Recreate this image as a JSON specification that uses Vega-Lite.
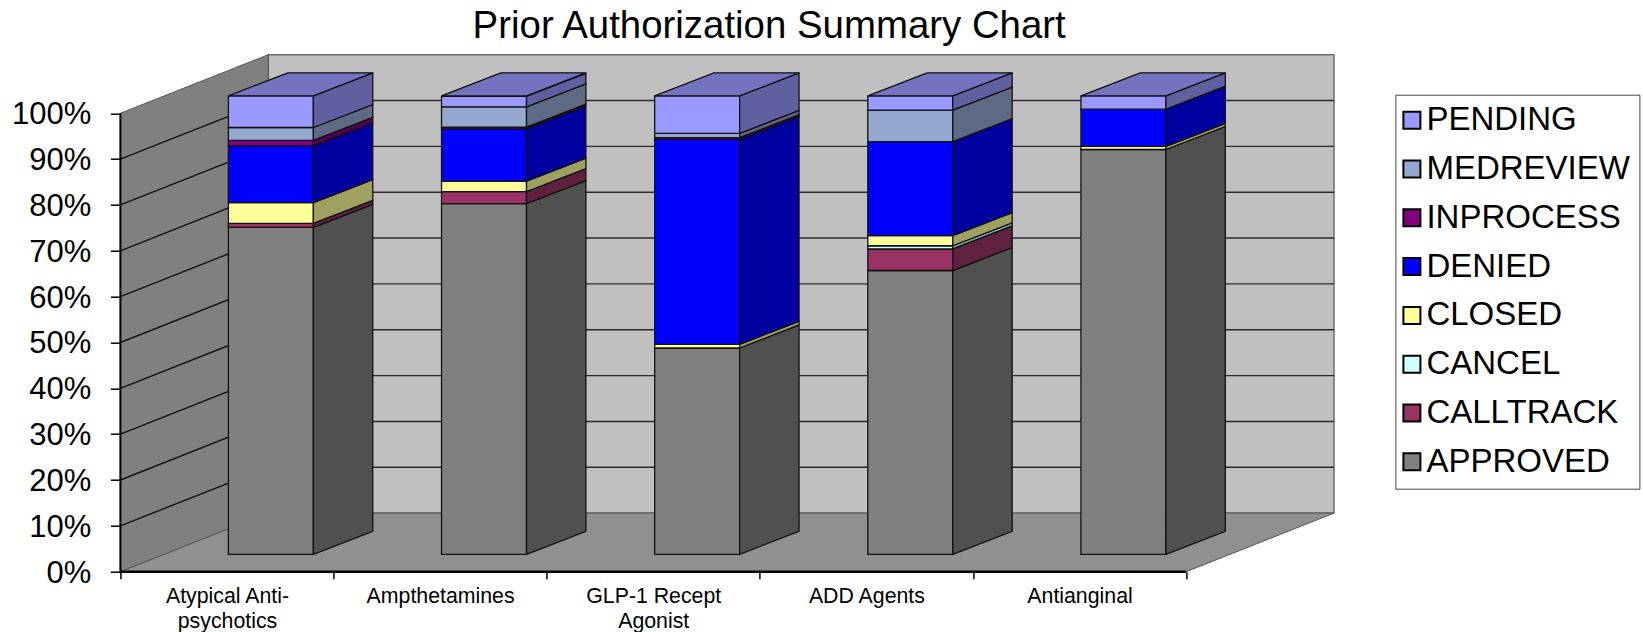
{"$schema":"https://vega.github.io/schema/vega-lite/v6.json","width":1213.6,"height":517,"autosize":"none","padding":{"left":120.4,"top":54.7,"right":309,"bottom":60.3},"background":"white","config":{"view":{"stroke":null}},
"title":{"text":"Prior Authorization Summary Chart","font":"Liberation Sans","fontSize":38.4,"fontWeight":"normal","anchor":"middle","dx":42,"offset":6,"color":"black"},
"datasets":{"rows":[
{"category":"Atypical Anti-psychotics","status":"APPROVED","value":71.3},{"category":"Atypical Anti-psychotics","status":"CALLTRACK","value":0.9},{"category":"Atypical Anti-psychotics","status":"CLOSED","value":4.5},{"category":"Atypical Anti-psychotics","status":"DENIED","value":12.4},{"category":"Atypical Anti-psychotics","status":"INPROCESS","value":1.2},{"category":"Atypical Anti-psychotics","status":"MEDREVIEW","value":2.8},{"category":"Atypical Anti-psychotics","status":"PENDING","value":6.9},
{"category":"Ampthetamines","status":"APPROVED","value":76.5},{"category":"Ampthetamines","status":"CALLTRACK","value":2.6},{"category":"Ampthetamines","status":"CLOSED","value":2.3},{"category":"Ampthetamines","status":"DENIED","value":11.4},{"category":"Ampthetamines","status":"INPROCESS","value":0.4},{"category":"Ampthetamines","status":"MEDREVIEW","value":4.4},{"category":"Ampthetamines","status":"PENDING","value":2.3},
{"category":"GLP-1 Recept Agonist","status":"APPROVED","value":45.0},{"category":"GLP-1 Recept Agonist","status":"CLOSED","value":0.8},{"category":"GLP-1 Recept Agonist","status":"DENIED","value":44.7},{"category":"GLP-1 Recept Agonist","status":"INPROCESS","value":0.4},{"category":"GLP-1 Recept Agonist","status":"MEDREVIEW","value":0.9},{"category":"GLP-1 Recept Agonist","status":"PENDING","value":8.2},
{"category":"ADD Agents","status":"APPROVED","value":61.9},{"category":"ADD Agents","status":"CALLTRACK","value":4.7},{"category":"ADD Agents","status":"CANCEL","value":0.7},{"category":"ADD Agents","status":"CLOSED","value":2.2},{"category":"ADD Agents","status":"DENIED","value":20.5},{"category":"ADD Agents","status":"MEDREVIEW","value":6.9},{"category":"ADD Agents","status":"PENDING","value":3.1},
{"category":"Antianginal","status":"APPROVED","value":88.3},{"category":"Antianginal","status":"CLOSED","value":0.7},{"category":"Antianginal","status":"DENIED","value":8.1},{"category":"Antianginal","status":"PENDING","value":2.9}
],"ticks":[{"tick":10},{"tick":20},{"tick":30},{"tick":40},{"tick":50},{"tick":60},{"tick":70},{"tick":80},{"tick":90}],"ends":[{"d":0},{"d":1}]},
"encoding":{
"x":{"field":"x","type":"quantitative","stack":null,"title":null,"scale":{"domain":[0,5.694],"nice":false,"zero":false},"axis":{"values":[0,0.5,1,1.5,2,2.5,3,3.5,4,4.5,5],"grid":false,"domain":false,"title":null,"tickColor":"black","tickWidth":1.5,"tickSize":7,"tickOpacity":{"condition":{"test":"datum.value%1==0","value":1},"value":0},"labelFont":"Liberation Sans","labelFontSize":21.3,"labelColor":"black","labelPadding":7,"labelLineHeight":25,"labelOverlap":false,"labelFlush":false,"labelBound":false,"labelAngle":0,"labelBaseline":"top","labelExpr":"datum.value==0.5?['Atypical Anti-','psychotics']:datum.value==1.5?'Ampthetamines':datum.value==2.5?['GLP-1 Recept','Agonist']:datum.value==3.5?'ADD Agents':datum.value==4.5?'Antianginal':''"}},
"y":{"field":"y","type":"quantitative","stack":null,"title":null,"scale":{"domain":[0,112.78],"nice":false,"zero":false},"axis":{"values":[0,10,20,30,40,50,60,70,80,90,100],"grid":false,"domain":false,"title":null,"tickColor":"black","tickWidth":1.5,"tickSize":10,"labelFont":"Liberation Sans","labelFontSize":31,"labelColor":"black","labelPadding":19.5,"labelOffset":1.5,"labelOverlap":false,"labelBound":false,"labelFlush":false,"labelExpr":"datum.value+'%'"}}
},
"layer":[
{"data":{"values":[{"d":1}]},"transform":[{"calculate":"0.694","as":"x"},{"calculate":"5.694","as":"x2"},{"calculate":"12.78","as":"y"},{"calculate":"112.78","as":"y2"}],"mark":{"type":"rect","fill":"#C0C0C0","stroke":"#6e6e6e","strokeWidth":1.5},"encoding":{"x2":{"field":"x2"},"y2":{"field":"y2"}}},
{"data":{"name":"ticks"},"transform":[{"calculate":"0.694","as":"x"},{"calculate":"5.694","as":"x2"},{"calculate":"datum.tick+12.78","as":"y"},{"calculate":"datum.y","as":"y2"}],"mark":{"type":"rule","color":"#2a2a2a","strokeWidth":1.4},"encoding":{"x2":{"field":"x2"},"y2":{"field":"y2"}}},
{"data":{"name":"ends"},"transform":[{"calculate":"0.694*datum.d","as":"x"},{"calculate":"12.78*datum.d","as":"y"},{"calculate":"100+12.78*datum.d","as":"y2"}],"mark":{"type":"area","fill":"#808080","stroke":"#555555","strokeWidth":1},"encoding":{"y2":{"field":"y2"}}},
{"data":{"name":"ends"},"transform":[{"calculate":"0.694*datum.d","as":"x"},{"calculate":"5+0.694*datum.d","as":"x2"},{"calculate":"12.78*datum.d","as":"y"}],"mark":{"type":"area","orient":"horizontal","fill":"#909090","stroke":"#555555","strokeWidth":1},"encoding":{"x2":{"field":"x2"}}},
{"data":{"name":"ticks"},"transform":[{"calculate":"0","as":"x"},{"calculate":"0.694","as":"x2"},{"calculate":"datum.tick","as":"y"},{"calculate":"datum.tick+12.78","as":"y2"}],"mark":{"type":"rule","color":"#111111","strokeWidth":1.4},"encoding":{"x2":{"field":"x2"},"y2":{"field":"y2"}}},
{"data":{"values":[{"d":0}]},"transform":[{"calculate":"0","as":"x"},{"calculate":"0","as":"x2"},{"calculate":"0","as":"y"},{"calculate":"100","as":"y2"}],"mark":{"type":"rule","color":"black","strokeWidth":2},"encoding":{"x2":{"field":"x2"},"y2":{"field":"y2"}}},
{"data":{"values":[{"d":0}]},"transform":[{"calculate":"0","as":"x"},{"calculate":"5","as":"x2"},{"calculate":"0","as":"y"},{"calculate":"0","as":"y2"}],"mark":{"type":"rule","color":"black","strokeWidth":2.5},"encoding":{"x2":{"field":"x2"},"y2":{"field":"y2"}}},
{"data":{"name":"rows"},
"transform":[
{"calculate":"indexof(['APPROVED','CALLTRACK','CANCEL','CLOSED','DENIED','INPROCESS','MEDREVIEW','PENDING'],datum.status)","as":"rank"},
{"calculate":"indexof(['Atypical Anti-psychotics','Ampthetamines','GLP-1 Recept Agonist','ADD Agents','Antianginal'],datum.category)","as":"idx"},
{"stack":"value","groupby":["category"],"sort":[{"field":"rank","order":"ascending"}],"as":["v0","v1"]},
{"calculate":"datum.idx+0.5067","as":"xf"},{"calculate":"datum.xf+0.3987","as":"xr"}
],
"resolve":{"scale":{"color":"independent"}},
"layer":[
{"transform":[{"calculate":"datum.xf","as":"x"},{"calculate":"datum.xr","as":"x2"},{"calculate":"datum.v0+3.8","as":"y"},{"calculate":"datum.v1+3.8","as":"y2"}],
"mark":{"type":"rect","stroke":"#111111","strokeWidth":1.3},
"encoding":{"x2":{"field":"x2"},"y2":{"field":"y2"},"color":{"field":"status","type":"nominal","scale":{"domain":["PENDING","MEDREVIEW","INPROCESS","DENIED","CLOSED","CANCEL","CALLTRACK","APPROVED"],"range":["#9999FF","#95A9D0","#800080","#0000FF","#FFFF99","#CCFFFF","#993366","#808080"]},
"legend":{"orient":"none","legendX":1275,"legendY":40,"title":null,"symbolType":"square","symbolSize":289,"symbolStrokeColor":"black","symbolStrokeWidth":2,"symbolOpacity":1,"symbolOffset":-9,"labelFont":"Liberation Sans","labelFontSize":33,"labelColor":"black","labelOffset":-2,"labelLimit":300,"rowPadding":14.8,"padding":9,"strokeColor":"#444444","fillColor":"white","offset":0}}}},
{"transform":[{"calculate":"[0,1]","as":"d"},{"flatten":["d"]},{"calculate":"datum.xr+0.2786*datum.d","as":"x"},{"calculate":"datum.v0+3.8+5.02*datum.d","as":"y"},{"calculate":"datum.v1+3.8+5.02*datum.d","as":"y2"}],
"mark":{"type":"area","stroke":"#111111","strokeWidth":1.3},
"encoding":{"y2":{"field":"y2"},"detail":{"field":"category"},"color":{"field":"status","type":"nominal","legend":null,"scale":{"domain":["PENDING","MEDREVIEW","INPROCESS","DENIED","CLOSED","CANCEL","CALLTRACK","APPROVED"],"range":["#6060A0","#5E6A83","#500050","#0000A0","#A0A060","#80A0A0","#602040","#505050"]}}}},
{"transform":[{"filter":"datum.status=='PENDING'"},{"calculate":"[0,1]","as":"d"},{"flatten":["d"]},{"calculate":"datum.xf+0.2786*datum.d","as":"x"},{"calculate":"datum.xr+0.2786*datum.d","as":"x2"},{"calculate":"103.8+5.02*datum.d","as":"y"}],
"mark":{"type":"area","orient":"horizontal","stroke":"#111111","strokeWidth":1.3},
"encoding":{"x2":{"field":"x2"},"detail":{"field":"category"},"color":{"field":"status","type":"nominal","legend":null,"scale":{"domain":["PENDING"],"range":["#7373BF"]}}}}
]}
]}
